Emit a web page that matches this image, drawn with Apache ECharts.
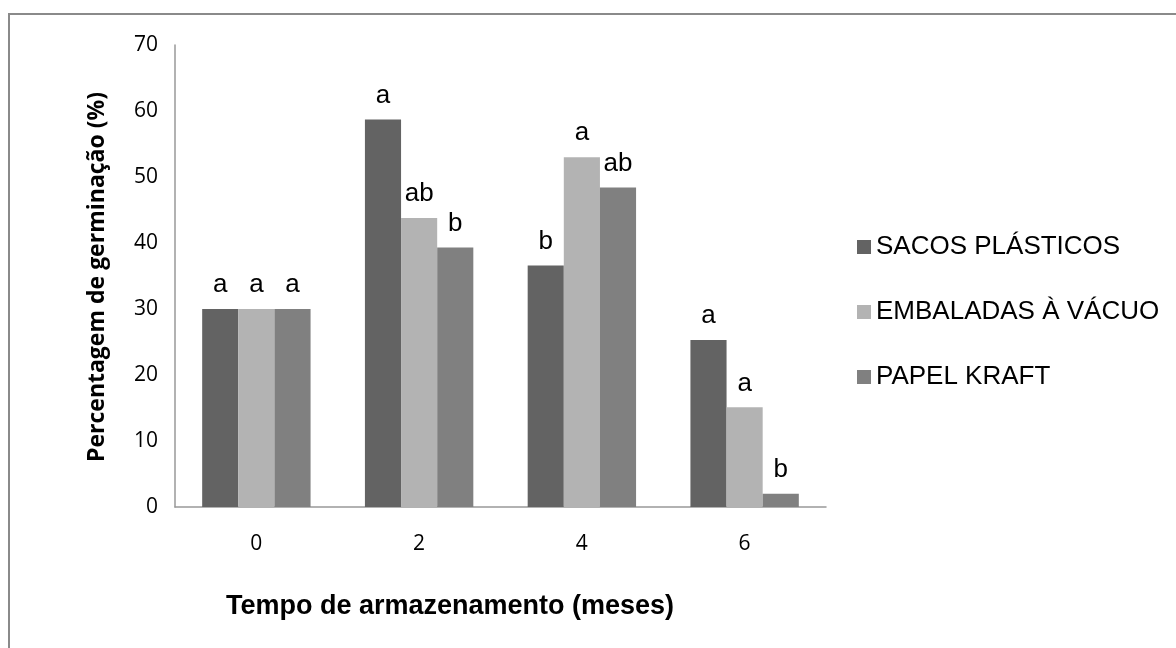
<!DOCTYPE html>
<html>
<head>
<meta charset="utf-8">
<script src="https://cdn.jsdelivr.net/npm/echarts@6/dist/echarts.min.js"></script>
<style>
html,body{margin:0;padding:0;background:#fff;}
#chart{width:1176px;height:648px;}
</style>
</head>
<body>
<div id="chart"></div>
<script>
const categories = ['0', '2', '4', '6'];
const seriesNames = ['SACOS PLÁSTICOS', 'EMBALADAS À VÁCUO', 'PAPEL KRAFT'];
const sacosValues = [30.0, 58.7, 36.6, 25.3];
const embaladasValues = [30.0, 43.8, 53.0, 15.1];
const papelValues = [30.0, 39.3, 48.4, 2.0];
const sacosLetters = ['a', 'a', 'b', 'a'];
const embaladasLetters = ['a', 'ab', 'a', 'a'];
const papelLetters = ['a', 'b', 'ab', 'b'];
const yTicks = { min: 0, max: 70, interval: 10 };
const colors = ['#636363', '#b3b3b3', '#808080'];

const chart = echarts.init(document.getElementById('chart'), null, { renderer: 'canvas' });

function mkSeries(name, values, letters, color) {
  return {
    name: name,
    type: 'bar',
    data: values,
    barGap: '0%',
    barCategoryGap: '33.4%',
    itemStyle: { color: color },
    label: {
      show: true,
      position: 'top',
      distance: 11,
      fontFamily: 'Liberation Sans',
      fontSize: 26,
      color: '#000',
      formatter: function (p) { return letters[p.dataIndex]; }
    }
  };
}

chart.setOption({
  animation: false,
  backgroundColor: '#fff',
  grid: { left: 175, right: 350, top: 45, bottom: 141, containLabel: false },
  xAxis: {
    type: 'category',
    data: categories,
    axisLine: { lineStyle: { color: '#999', width: 1.5 } },
    axisTick: { show: false },
    axisLabel: { margin: 27, fontFamily: 'Open Sans', fontSize: 21, color: '#000' },
    splitLine: { show: false }
  },
  yAxis: {
    type: 'value',
    min: yTicks.min,
    max: yTicks.max,
    interval: yTicks.interval,
    axisLine: { show: true, lineStyle: { color: '#999', width: 1.5 } },
    axisTick: { show: false },
    axisLabel: { margin: 17, fontFamily: 'Open Sans', fontSize: 21, color: '#000' },
    splitLine: { show: false }
  },
  legend: {
    orient: 'vertical',
    left: 852,
    top: 229,
    itemWidth: 14,
    itemHeight: 14,
    itemGap: 39,
    icon: 'rect',
    data: seriesNames,
    textStyle: { fontFamily: 'Liberation Sans', fontSize: 26, lineHeight: 26, color: '#000' }
  },
  series: [
    mkSeries(seriesNames[0], sacosValues, sacosLetters, colors[0]),
    mkSeries(seriesNames[1], embaladasValues, embaladasLetters, colors[1]),
    mkSeries(seriesNames[2], papelValues, papelLetters, colors[2])
  ],
  graphic: [
    {
      type: 'rect',
      shape: { x: 9, y: 14, width: 1300, height: 800 },
      style: { fill: 'none', stroke: '#8a8a8a', lineWidth: 2 },
      silent: true
    },
    {
      type: 'text',
      x: 450, y: 607,
      style: {
        text: 'Tempo de armazenamento (meses)',
        fontFamily: 'Liberation Sans', fontWeight: 'bold', fontSize: 27,
        fill: '#000', align: 'center', verticalAlign: 'middle'
      }
    },
    {
      type: 'text',
      x: 97, y: 277,
      rotation: Math.PI / 2,
      style: {
        text: 'Percentagem de germinação (%)',
        fontFamily: 'Open Sans', fontWeight: 'bold', fontSize: 23,
        fill: '#000', align: 'center', verticalAlign: 'middle'
      }
    }
  ]
});
</script>
</body>
</html>
